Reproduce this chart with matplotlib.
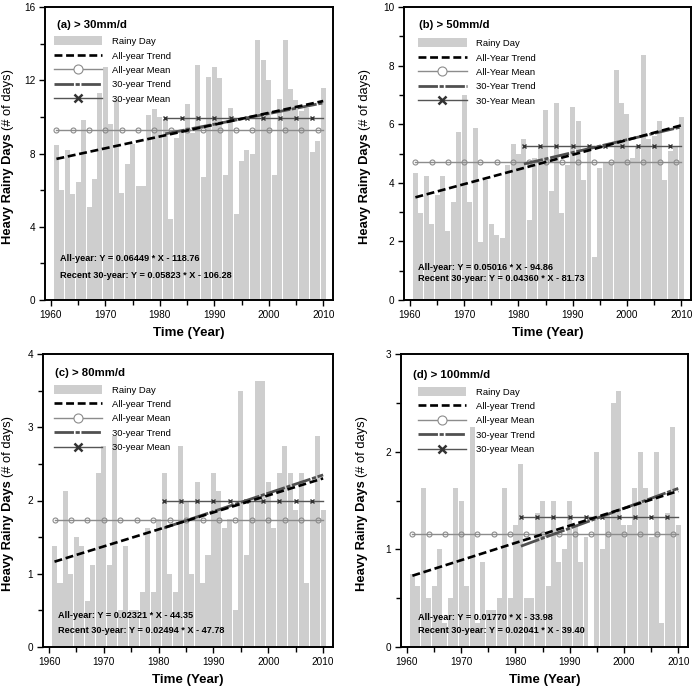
"""
Heavy rainy day counts 1961-2010 for four daily-rainfall thresholds,
with all-year / recent 30-year trends and means.
"""

import numpy as np
import matplotlib
matplotlib.use("Agg")
import matplotlib.pyplot as plt
from matplotlib.lines import Line2D
from matplotlib.patches import Patch
from matplotlib.ticker import MultipleLocator

plt.rcParams["font.family"] = ["Liberation Sans", "DejaVu Sans"]

# ── Data ───────────────────────────────────────────────────────
YEARS = list(range(1961, 2011))
RECENT_START = 1981

RAIN_30 = [8.45, 6.0, 8.2, 5.8, 6.45, 9.85, 5.1, 6.6, 11.3, 12.7,
           9.6, 10.9, 5.85, 7.45, 8.5, 6.2, 6.2, 10.1, 10.45, 10.0,
           9.9, 4.45, 8.85, 9.3, 10.7, 9.1, 12.85, 6.7, 12.2, 12.7,
           12.1, 6.85, 10.5, 4.7, 7.6, 8.2, 8.0, 14.2, 13.1, 12.0,
           6.85, 10.95, 14.2, 11.5, 10.9, 10.3, 10.5, 8.1, 8.7, 11.6]

RAIN_50 = [4.35, 2.98, 4.24, 2.6, 3.6, 4.24, 2.36, 3.36, 5.74, 7.0,
           3.36, 5.87, 1.99, 4.1, 2.6, 2.22, 2.1, 4.6, 5.34, 4.97,
           5.48, 2.73, 4.85, 5.25, 6.5, 3.73, 6.73, 2.98, 4.6, 6.6,
           6.1, 4.1, 5.23, 1.48, 4.5, 4.7, 4.72, 7.86, 6.73, 6.36,
           4.85, 5.27, 8.35, 5.48, 5.6, 6.1, 4.1, 5.1, 5.25, 6.23]

RAIN_80 = [1.375, 0.875, 2.125, 1.0, 1.5, 1.375, 0.625, 1.125, 2.375, 2.75,
           1.125, 2.875, 0.5, 1.375, 0.5, 0.5, 0.75, 1.625, 0.75, 1.75,
           2.375, 1.0, 0.75, 2.75, 2.0, 1.0, 2.25, 0.875, 1.25, 2.375,
           2.125, 1.625, 1.75, 0.5, 3.5, 1.25, 2.0, 3.625, 3.625, 2.25,
           1.625, 2.375, 2.75, 2.375, 1.875, 2.375, 0.875, 2.0, 2.875, 1.875]

RAIN_100 = [0.75, 0.625, 1.625, 0.5, 0.625, 1.0, 0.25, 0.5, 1.625, 1.5,
            0.625, 2.25, 0.25, 0.875, 0.375, 0.375, 0.5, 1.625, 0.5, 1.25,
            1.875, 0.5, 0.5, 1.375, 1.5, 0.625, 1.5, 0.875, 1.0, 1.5,
            1.25, 0.875, 1.125, 0.0, 2.0, 1.0, 1.375, 2.5, 2.625, 1.25,
            1.25, 1.625, 2.0, 1.625, 1.125, 2.0, 0.25, 1.375, 2.25, 1.25]

# regression coefficients as printed on each panel: (slope, intercept)
ALL_FIT = [(0.06449, -118.76), (0.05016, -94.86), (0.02321, -44.35), (0.01770, -33.98)]
RECENT_FIT = [(0.05823, -106.28), (0.04360, -81.73), (0.02494, -47.78), (0.02041, -39.40)]

TITLES = ["(a) > 30mm/d", "(b) > 50mm/d", "(c) > 80mm/d", "(d) > 100mm/d"]
YEAR_WORD = ["year", "Year", "year", "year"]
# ───────────────────────────────────────────────────────────────

BAR_COLOR = "#cecece"
MEAN_COLOR = "#8c8c8c"
RECENT_MEAN_COLOR = "#555555"
RECENT_TREND_COLOR = "#505050"

# layout per panel: axes rect (px), ylim, major, minor, legend anchor, eq y
W, H = 697, 688
LAYOUT = [
    dict(rect=(45, 7, 288, 293), ymax=16, major=4, minor=2, ylab=37,
         leg=(0.031, 0.9), title=(0.042, 0.94), eq=(0.052, 0.143, 0.082)),
    dict(rect=(404, 7, 287, 293), ymax=10, major=2, minor=1, ylab=39,
         leg=(0.05, 0.893), title=(0.052, 0.94), eq=(0.048, 0.112, 0.074)),
    dict(rect=(43, 354, 290, 293), ymax=4, major=1, minor=0.5, ylab=35,
         leg=(0.038, 0.895), title=(0.042, 0.935), eq=(0.052, 0.107, 0.058)),
    dict(rect=(401, 354, 287, 293), ymax=3, major=1, minor=0.5, ylab=39,
         leg=(0.06, 0.888), title=(0.042, 0.93), eq=(0.058, 0.102, 0.055)),
]


def draw_panel(fig, ax, values, i):
    lay = LAYOUT[i]
    years = np.array(YEARS)
    vals = np.array(values)
    recent = years >= RECENT_START

    ax.bar(years, vals, width=0.92, color=BAR_COLOR, edgecolor="none", zorder=1)

    # means
    all_mean = vals.mean()
    rec_mean = vals[recent].mean()
    ax.plot(years, np.full(len(years), all_mean), color=MEAN_COLOR, lw=1.0,
            marker="o", ms=3.6, mfc="none", mec=MEAN_COLOR, mew=0.8,
            markevery=3, zorder=2)
    ax.plot(years[recent], np.full(recent.sum(), rec_mean), color=RECENT_MEAN_COLOR,
            lw=1.0, marker="x", ms=3.4, mec="#333333", mew=1.0,
            markevery=3, zorder=2)

    # trends
    a, b = ALL_FIT[i]
    ax.plot(years, a * years + b, color="black", lw=1.9,
            linestyle=(0, (3.0, 1.4)), zorder=4)
    a, b = RECENT_FIT[i]
    ax.plot(years[recent], a * years[recent] + b, color=RECENT_TREND_COLOR,
            lw=2.0, linestyle=(0, (7, 0.6, 1.5, 0.6)), zorder=3)

    ax.set_xlim(1958.9, 2011.8)
    ax.set_ylim(0, lay["ymax"])
    ax.xaxis.set_major_locator(MultipleLocator(10))
    ax.xaxis.set_minor_locator(MultipleLocator(5))
    ax.yaxis.set_major_locator(MultipleLocator(lay["major"]))
    ax.yaxis.set_minor_locator(MultipleLocator(lay["minor"]))
    ax.tick_params(which="both", direction="out", top=False, right=False,
                   width=1.0, labelsize=7.2, pad=2.5)
    ax.tick_params(which="major", length=4.5)
    ax.tick_params(which="minor", length=3.5)
    for sp in ax.spines.values():
        sp.set_linewidth(1.4)

    tx, ty = lay["title"]
    ax.text(tx, ty, TITLES[i], transform=ax.transAxes, fontsize=8.2,
            fontweight="bold", ha="left", va="center")

    w = YEAR_WORD[i]
    handles = [
        Patch(facecolor=BAR_COLOR, edgecolor="none"),
        Line2D([], [], color="black", lw=1.9, linestyle=(0, (3.0, 1.4))),
        Line2D([], [], color=MEAN_COLOR, lw=1.0, marker="o", ms=6.5,
               mfc="white", mec=MEAN_COLOR, mew=0.8),
        Line2D([], [], color=RECENT_TREND_COLOR, lw=2.0,
               linestyle=(0, (7, 0.6, 1.5, 0.6))),
        Line2D([], [], color=RECENT_MEAN_COLOR, lw=1.0, marker="x", ms=6,
               mec="#333333", mew=1.8),
    ]
    labels = ["Rainy Day", f"All-{w} Trend", f"All-{w} Mean",
              f"30-{w} Trend", f"30-{w} Mean"]
    ax.legend(handles, labels, loc="upper left", bbox_to_anchor=lay["leg"],
              frameon=False, fontsize=6.8, handlelength=5.1, handleheight=1.1,
              handletextpad=1.0, labelspacing=0.5, borderpad=0, borderaxespad=0)

    ex, ey1, ey2 = lay["eq"]
    a, b = ALL_FIT[i]
    ax.text(ex, ey1, f"All-year: Y = {a:.5f} * X - {abs(b):.2f}",
            transform=ax.transAxes, fontsize=6.6, fontweight="bold", va="center")
    a, b = RECENT_FIT[i]
    ax.text(ex, ey2, f"Recent 30-year: Y = {a:.5f} * X - {abs(b):.2f}",
            transform=ax.transAxes, fontsize=6.6, fontweight="bold", va="center")

    ax.text(0.5, -0.113, "Time (Year)", transform=ax.transAxes, fontsize=9.6,
            fontweight="bold", ha="center", va="center")

    # y label: bold part + normal part
    yx = -lay["ylab"] / lay["rect"][2]
    t1 = ax.text(yx, 0.19, "Heavy Rainy Days", transform=ax.transAxes,
                 rotation=90, fontsize=9.3, fontweight="bold",
                 ha="center", va="bottom")
    fig.canvas.draw()
    bb = t1.get_window_extent().transformed(ax.transAxes.inverted())
    ax.text(yx, bb.y1 + 0.012, "(# of days)", transform=ax.transAxes,
            rotation=90, fontsize=9.3, ha="center", va="bottom")


def main():
    fig = plt.figure(figsize=(W / 100, H / 100), dpi=100)
    series = [RAIN_30, RAIN_50, RAIN_80, RAIN_100]
    for i, vals in enumerate(series):
        x, y, w, h = LAYOUT[i]["rect"]
        ax = fig.add_axes([x / W, 1 - (y + h) / H, w / W, h / H])
        draw_panel(fig, ax, vals, i)
    fig.savefig("out.png", dpi=100)
    plt.close(fig)


if __name__ == "__main__":
    main()
